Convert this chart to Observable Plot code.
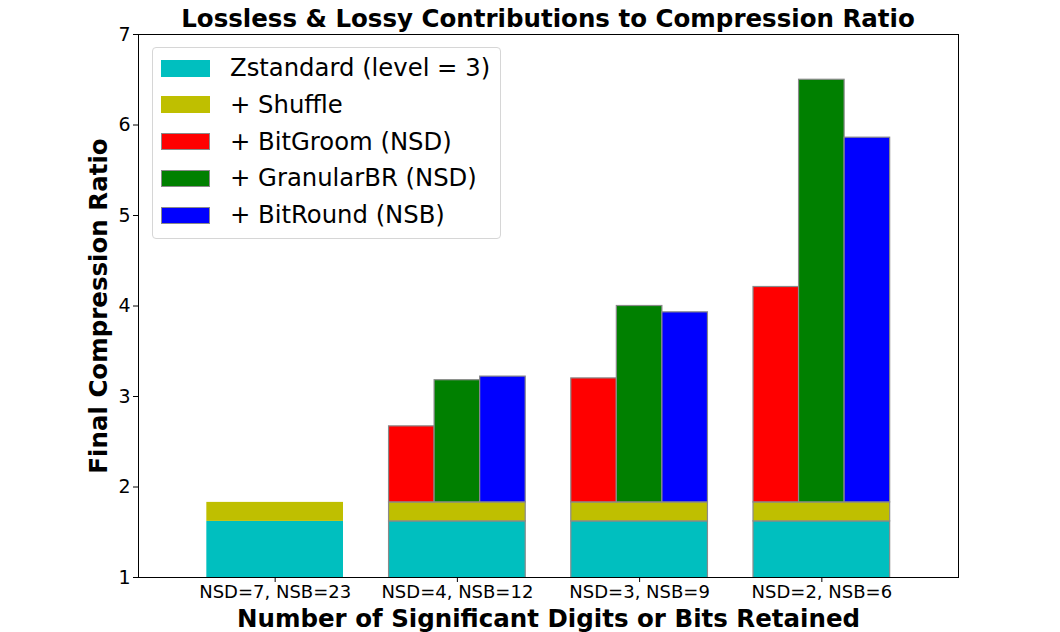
<!DOCTYPE html>
<html>
<head>
<meta charset="utf-8">
<script src="https://cdn.jsdelivr.net/npm/d3@7"></script>
<script src="https://cdn.jsdelivr.net/npm/@observablehq/plot@0.6"></script>
<style>
  html, body { margin: 0; padding: 0; background: #fff; }
  #wrap { position: relative; width: 1060px; height: 632px; overflow: hidden; font-family: "DejaVu Sans", sans-serif; }
  #title { position: absolute; left: 138px; width: 820px; top: 7px; text-align: center; font-weight: bold; font-size: 24.5px; line-height: 24px; color: #000; white-space: nowrap; }
  #chart { position: absolute; left: 0; top: 0; }
  #legend { position: absolute; left: 152px; top: 47px; width: 347px; height: 190px; border: 1px solid #d6d6d6; border-radius: 4px; background: rgba(255,255,255,0.8); }
  .row { position: absolute; left: 8px; height: 26px; display: flex; align-items: center; }
  .sw { width: 49px; height: 17px; box-sizing: border-box; }
  .lab { margin-left: 20px; font-size: 24.3px; line-height: 26px; color: #000; white-space: nowrap; }
</style>
</head>
<body>
<div id="wrap">
  <div id="chart"></div>
  <div id="title">Lossless &amp; Lossy Contributions to Compression Ratio</div>
  <div id="legend"></div>
</div>
<script>
// ---- data ----
const categories = ["NSD=7, NSB=23", "NSD=4, NSB=12", "NSD=3, NSB=9", "NSD=2, NSB=6"];
const zstd       = [1.62, 1.62, 1.62, 1.62];
const shuffle    = [1.83, 1.83, 1.83, 1.83];
const bitgroom   = [null, 2.67, 3.20, 4.21];
const granularbr = [null, 3.18, 4.00, 6.50];
const bitround   = [null, 3.22, 3.93, 5.86];
const seriesNames = ["Zstandard (level = 3)", "+ Shuffle", "+ BitGroom (NSD)", "+ GranularBR (NSD)", "+ BitRound (NSB)"];
const seriesColors = ["#00bfbf", "#bfbf00", "#ff0000", "#008000", "#0000ff"];
const yTicks = [1, 2, 3, 4, 5, 6, 7];

// ---- table built from the arrays ----
const groupWidth = 0.75;
const subWidth = groupWidth / 3;
const rows = [];
categories.forEach((c, i) => {
  const left = i - groupWidth / 2;
  const edged = i > 0;
  rows.push({series: seriesNames[0], x1: left, x2: left + groupWidth, y1: 0, y2: zstd[i], edged});
  rows.push({series: seriesNames[1], x1: left, x2: left + groupWidth, y1: zstd[i], y2: shuffle[i], edged});
  [bitgroom, granularbr, bitround].forEach((arr, j) => {
    if (arr[i] == null) return;
    rows.push({series: seriesNames[2 + j], x1: left + j * subWidth, x2: left + (j + 1) * subWidth, y1: shuffle[i], y2: arr[i], edged: true});
  });
});

const chart = Plot.plot({
  width: 1060,
  height: 632,
  marginTop: 34,
  marginBottom: 55,
  marginLeft: 138,
  marginRight: 102,
  style: {fontFamily: "DejaVu Sans", fontSize: "18px", color: "#000", background: "#fff"},
  x: {type: "linear", domain: [-0.75, 3.75]},
  y: {domain: [1, 7]},
  color: {domain: seriesNames, range: seriesColors},
  marks: [
    Plot.rect(rows.filter(d => !d.edged), {x1: "x1", x2: "x2", y1: "y1", y2: "y2", fill: "series", clip: true}),
    Plot.rect(rows.filter(d => d.edged), {x1: "x1", x2: "x2", y1: "y1", y2: "y2", fill: "series", stroke: "#8a8a8a", strokeWidth: 1.2, clip: true}),
    Plot.axisY({ticks: yTicks, tickFormat: d3.format("d"), tickSize: 5, tickPadding: 3, label: null, fontSize: 19}),
    Plot.axisX({ticks: d3.range(categories.length), tickFormat: i => categories[i], tickSize: 5, tickPadding: 3, label: null, fontSize: 18}),
    Plot.frame({stroke: "#000", strokeWidth: 1}),
    Plot.text(["Final Compression Ratio"], {frameAnchor: "left", textAnchor: "middle", rotate: -90, dx: -39, fontSize: 24.5, fontWeight: "bold", fill: "#000"}),
    Plot.text(["Number of Significant Digits or Bits Retained"], {frameAnchor: "bottom", textAnchor: "middle", dy: 49, fontSize: 24.5, fontWeight: "bold", fill: "#000"})
  ]
});
document.getElementById("chart").appendChild(chart);

// ---- legend ----
const legend = document.getElementById("legend");
seriesNames.forEach((name, k) => {
  const row = document.createElement("div");
  row.className = "row";
  row.style.top = (7 + k * 36.75) + "px";
  const sw = document.createElement("div");
  sw.className = "sw";
  sw.style.background = seriesColors[k];
  if (k >= 2) sw.style.border = "1px solid #8a8a8a";
  const lab = document.createElement("span");
  lab.className = "lab";
  lab.textContent = name;
  row.appendChild(sw);
  row.appendChild(lab);
  legend.appendChild(row);
});
</script>
</body>
</html>
